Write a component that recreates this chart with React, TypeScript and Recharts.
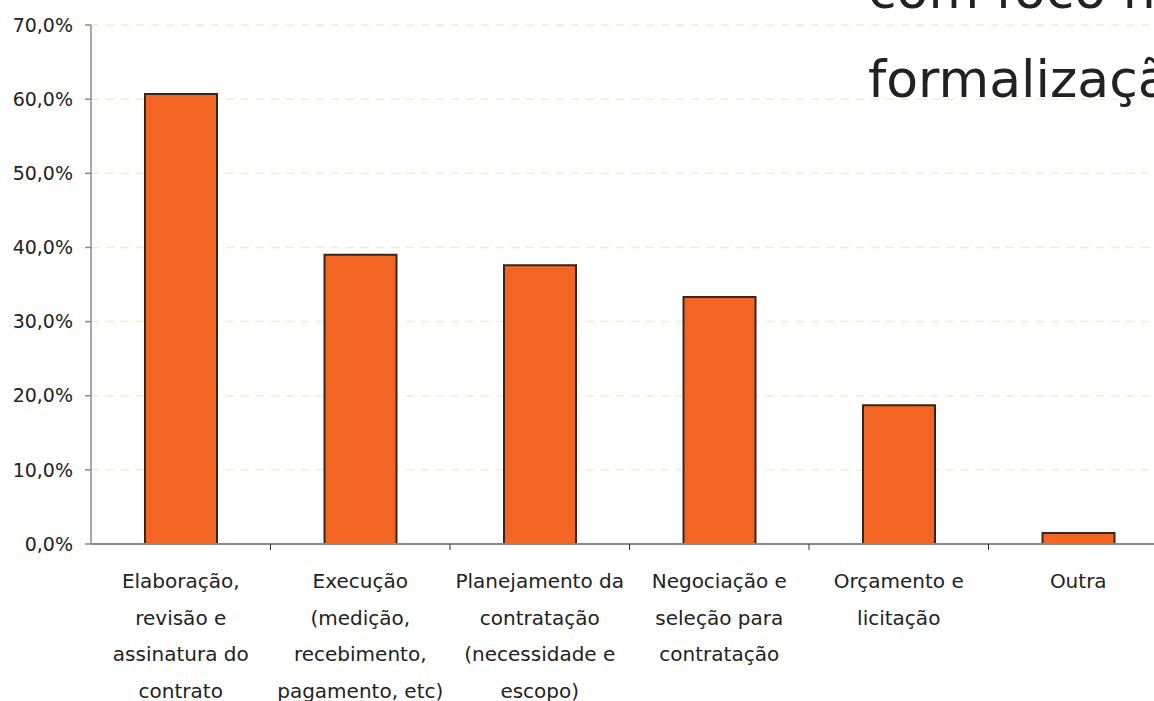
import React from "react";
import { BarChart, Bar, XAxis, YAxis, CartesianGrid } from "recharts";

const categories: string[][] = [
  ["Elaboração,", "revisão e", "assinatura do", "contrato"],
  ["Execução", "(medição,", "recebimento,", "pagamento, etc)"],
  ["Planejamento da", "contratação", "(necessidade e", "escopo)"],
  ["Negociação e", "seleção para", "contratação"],
  ["Orçamento e", "licitação"],
  ["Outra"],
];
const values: number[] = [60.7, 39.0, 37.6, 33.3, 18.7, 1.5];
const yTicks: number[] = [0, 10, 20, 30, 40, 50, 60, 70];
const overlayLines: string[] = ["com foco na", "formalização"];

const data = categories.map((c, i) => ({ name: c.join("|"), value: values[i] }));

const FONT = "'DejaVu Sans', Verdana, sans-serif";

const fmt = (v: number) => v.toFixed(1).replace(".", ",") + "%";

const XTick = (props: any) => {
  const { x, y, payload, index } = props;
  const lines: string[] = String(payload.value).split("|");
  const half = payload && payload.offset ? payload.offset : 179.5 / 2;
  const axisY = y - 8;
  return (
    <g>
      {index > 0 && (
        <line
          x1={x - half}
          x2={x - half}
          y1={axisY}
          y2={axisY + 6}
          stroke="#333"
          strokeWidth={1}
        />
      )}
      <text
        x={x}
        y={y}
        textAnchor="middle"
        fill="#222"
        fontSize={20}
        fontFamily={FONT}
      >
        {lines.map((l, i) => (
          <tspan key={i} x={x} dy={i === 0 ? 36 : 36.5}>
            {l}
          </tspan>
        ))}
      </text>
    </g>
  );
};

export default function App() {
  return (
    <div
      style={{
        position: "fixed",
        left: 0,
        top: 0,
        width: 1154,
        height: 701,
        overflow: "hidden",
        background: "#fff",
      }}
    >
      <BarChart
        width={1172}
        height={701}
        data={data}
        margin={{ top: 25, right: 4, bottom: 0, left: 0 }}
        barCategoryGap={0}
      >
        <CartesianGrid
          vertical={false}
          stroke="#F5EFC0"
          strokeDasharray="8 7"
          strokeWidth={1.5}
        />
        <XAxis
          dataKey="name"
          height={157}
          interval={0}
          tick={<XTick />}
          axisLine={{ stroke: "#8a8a8a", strokeWidth: 2 }}
          tickLine={false}
          tickSize={6}
          tickMargin={2}
        />
        <YAxis
          width={91}
          domain={[0, 70]}
          ticks={yTicks}
          tickFormatter={fmt}
          interval={0}
          tickSize={6}
          tickMargin={12}
          axisLine={{ stroke: "#8a8a8a", strokeWidth: 1.5 }}
          tickLine={{ stroke: "#8a8a8a", strokeWidth: 1.5 }}
          tick={{ fill: "#222", fontSize: 19, fontFamily: FONT }}
        />
        <Bar
          dataKey="value"
          fill="#F26522"
          stroke="#35261d"
          strokeWidth={2}
          barSize={72}
          isAnimationActive={false}
        />
      </BarChart>
      <div
        style={{
          position: "absolute",
          left: 868,
          top: 0,
          fontFamily: FONT,
          fontSize: 52,
          color: "#222",
          whiteSpace: "nowrap",
          pointerEvents: "none",
        }}
      >
        {overlayLines.map((l, i) => (
          <div
            key={i}
            style={{
              position: "absolute",
              left: 0,
              top: (i === 0 ? 8 : 97) - 48,
              lineHeight: "60px",
              height: 60,
            }}
          >
            {l}
          </div>
        ))}
      </div>
    </div>
  );
}
